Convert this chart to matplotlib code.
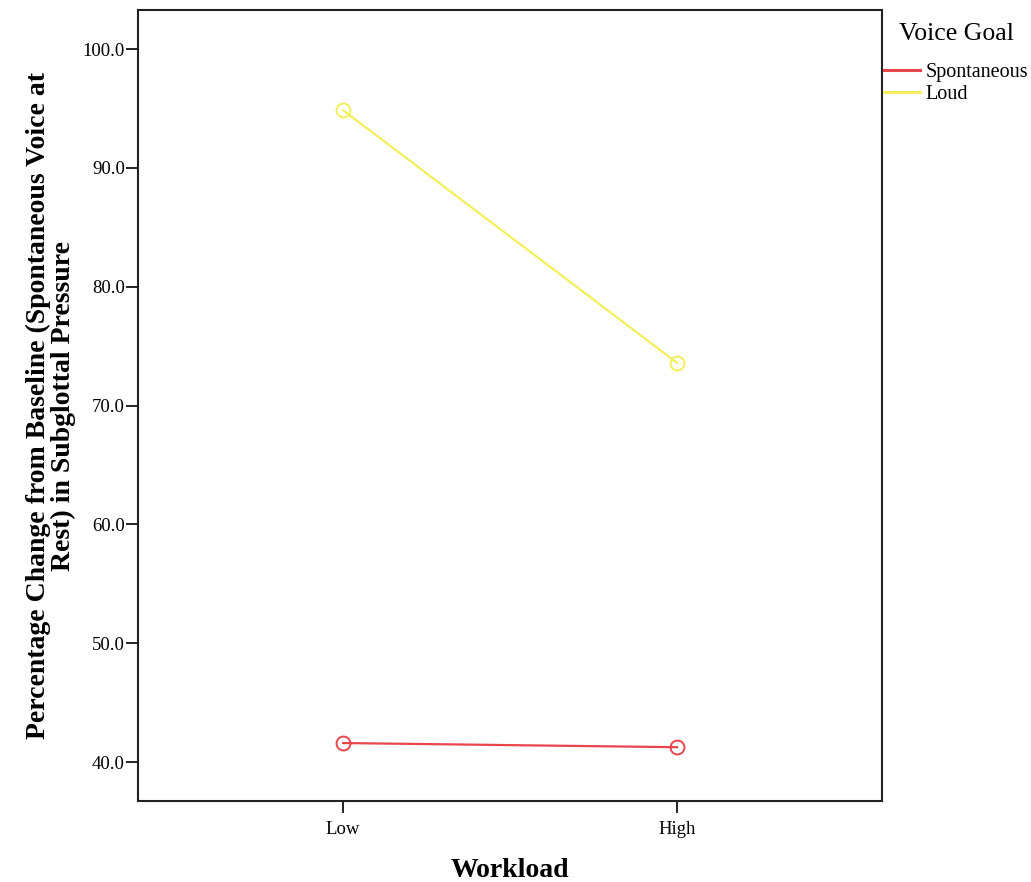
import matplotlib
matplotlib.use('Agg')
import matplotlib.pyplot as plt

plt.rcParams['font.family'] = ['Liberation Serif', 'DejaVu Serif']

# data
workload = ['Low', 'High']
spontaneous = [41.6, 41.25]
loud = [94.85, 73.6]
series_names = ['Spontaneous', 'Loud']
colors = ['#e8454d', '#f3ef5a']
yticks = [40.0, 50.0, 60.0, 70.0, 80.0, 90.0, 100.0]

fig = plt.figure(figsize=(10.31, 8.82), dpi=100)
ax = fig.add_axes([0.1339, 0.0918, 0.7216, 0.8968])

x = list(range(len(workload)))
for vals, name, c in zip([spontaneous, loud], series_names, colors):
    ax.plot(x, vals, color=c, lw=1.6, marker='o', ms=10, mfc='none',
            mec=c, mew=1.4, label=name)

ax.set_xlim(-0.614, 1.614)
ax.set_ylim(36.72, 103.28)
ax.set_xticks(x)
ax.set_xticklabels(workload)
ax.set_yticks(yticks)
ax.set_yticklabels(['%.1f' % v for v in yticks])
ax.tick_params(labelsize=13.5, length=8.5, width=1.4, color='#222222', pad=1)
ax.tick_params(axis='x', pad=6)
for s in ax.spines.values():
    s.set_linewidth(1.5)
    s.set_color('#222222')

ax.set_xlabel('Workload', fontsize=20, fontweight='bold', labelpad=14)
ax.set_ylabel('Percentage Change from Baseline (Spontaneous Voice at\nRest) in Subglottal Pressure',
              fontsize=20, fontweight='bold', labelpad=5, linespacing=1.0)

leg = ax.legend(loc='upper left', bbox_to_anchor=(884 / 1031, 1 - 23 / 882),
                bbox_transform=fig.transFigure, frameon=False,
                title='Voice Goal', fontsize=14.5, title_fontsize=18.5,
                handlelength=1.8, handletextpad=0.25, labelspacing=0.15,
                borderpad=0, borderaxespad=0)
leg._legend_box.sep = 13
for h in leg.get_lines():
    h.set_marker('')
    h.set_linewidth(2.2)

fig.savefig('out.png', dpi=100)
